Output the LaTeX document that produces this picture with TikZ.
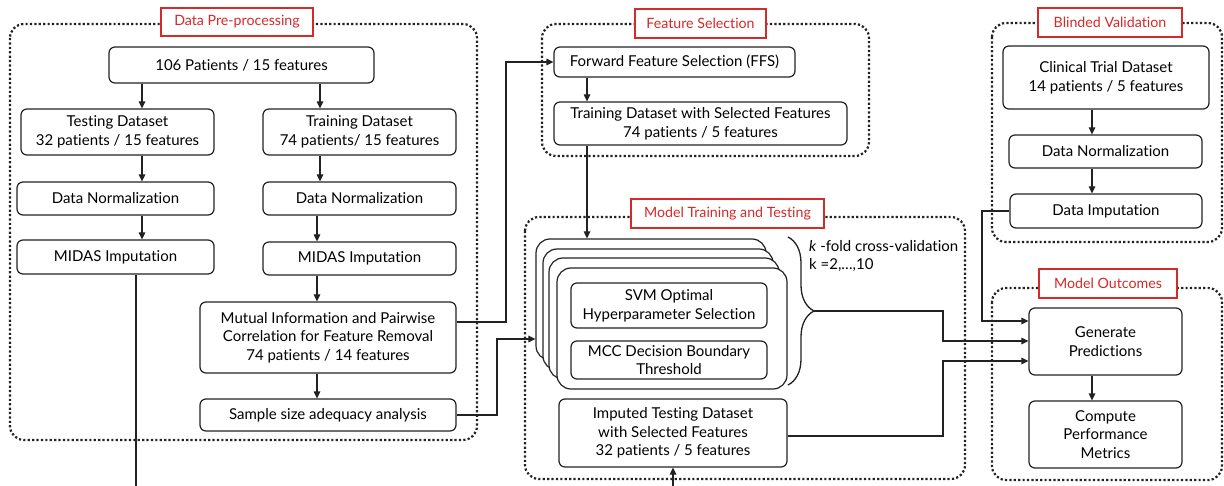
\documentclass[tikz,border=0pt]{standalone}
\usepackage{fontspec}
\setmainfont{Lato}[Ligatures=NoCommon]
\usetikzlibrary{arrows.meta,decorations.pathreplacing,calc}
\definecolor{lnc}{HTML}{222222}
\definecolor{tred}{HTML}{D42A2A}
\begin{document}
\begin{tikzpicture}[x=1pt,y=-1pt,
  font=\fontsize{15}{18.7}\selectfont,
  bx/.style={draw=lnc, line width=1.2pt, rounded corners=6pt, fill=white, align=center, inner sep=0pt},
  sz/.style 2 args={minimum width=#1pt, minimum height=#2pt},
  grp/.style={draw=lnc, line width=2.2pt, dash pattern=on 2.2pt off 2.2pt, rounded corners=14pt},
  ttl/.style={draw=tred, line width=1.4pt, fill=white, text=tred, inner sep=0pt, font=\fontsize{14.2}{17}\selectfont},
  stk/.style={bx, rounded corners=14pt, sz={230}{121}},
  conn/.style={draw=lnc, line width=1.2pt},
  arr/.style={conn, -{Triangle[length=7pt,width=6.5pt]}},
  brc/.style={draw=lnc, line width=1.3pt, decorate, decoration={brace, amplitude=26pt}}
]
\useasboundingbox (0,0) rectangle (1224,486);
\fill[white] (0,0) rectangle (1224,486);

% group frames
\draw[grp] (10,24) rectangle (477,440);
\draw[grp] (542,24) rectangle (869,156);
\draw[grp] (525,217) rectangle (965,479);
\draw[grp] (992,23) rectangle (1222,242);
\draw[grp] (992,288) rectangle (1222,480);

% titles
\node[ttl, sz={152}{28}] (t1) at (237,22) {Data Pre-processing};
\node[ttl, sz={131}{29}] (t2) at (700.5,23.5) {Feature Selection};
\node[ttl, sz={193}{29}] (t3) at (727.5,213.5) {Model Training and Testing};
\node[ttl, sz={144}{29}] (t4) at (1110,22.5) {Blinded Validation};
\node[ttl, sz={138}{29}] (t5) at (1108,283.5) {Model Outcomes};

% Data pre-processing
\node[bx, sz={265}{36}] (n106) at (241.5,65) {106 Patients / 15 features};
\node[bx, sz={193}{46}] (tst) at (117.5,132) {Testing Dataset\\32 patients / 15 features};
\node[bx, sz={193}{46}] (trn) at (359.5,132) {Training Dataset\\74 patients/ 15 features};
\node[bx, sz={197}{33}] (dnl) at (115.5,198.5) {Data Normalization};
\node[bx, sz={193}{33}] (dnr) at (359.5,198.5) {Data Normalization};
\node[bx, sz={197}{34}] (midl) at (115.5,257) {MIDAS Imputation};
\node[bx, sz={193}{33}] (midr) at (359.5,258.5) {MIDAS Imputation};
\node[bx, sz={256}{71}] (mi) at (328,337.5) {Mutual Information and Pairwise\\Correlation for Feature Removal\\74 patients / 14 features};
\node[bx, sz={256}{32}] (ss) at (328,415) {Sample size adequacy analysis};

% Feature selection
\node[bx, sz={241}{30}] (ffs) at (674.5,62) {Forward Feature Selection (FFS)};
\node[bx, sz={293}{43}] (tds) at (700.5,123.5) {Training Dataset with Selected Features\\74 patients / 5 features};

% Model training
\node[stk] (st0) at (651,299.5) {};
\node[stk] (st1) at (658,309.5) {};
\node[stk] (st2) at (664,318.5) {};
\node[stk] (st3) at (672,328.5) {};
\node[bx, sz={196}{45}] (svm) at (669,305.5) {SVM Optimal\\Hyperparameter Selection};
\node[bx, sz={196}{38}] (mcc) at (669,360) {MCC Decision Boundary\\Threshold};
\node[bx, sz={228}{68}] (imp) at (673,433) {Imputed Testing Dataset\\with Selected Features\\32 patients / 5 features};
\draw[brc] (788,237) -- (788,385);
\coordinate (btip) at (814,311);
\node[anchor=north west, align=left, inner sep=0pt] (kf) at (809,240) {\textit{k} -fold cross-validation\\k =2,…,10};

% Blinded validation
\node[bx, sz={206}{63}] (ctd) at (1106,77.5) {Clinical Trial Dataset\\14 patients / 5 features};
\node[bx, sz={193}{33}] (dnb) at (1105.5,151.5) {Data Normalization};
\node[bx, sz={192}{34}] (dib) at (1106,211) {Data Imputation};

% Model outcomes
\node[bx, sz={153}{67}] (gen) at (1105.5,341.5) {Generate\\Predictions};
\node[bx, sz={153}{67}] (cpm) at (1105.5,434.5) {Compute\\Performance\\Metrics};

% helper coordinates
\coordinate (x142) at (142,0);
\coordinate (x320) at (320,0);
\coordinate (x317) at (317,0);
\coordinate (x136) at (136,486);
\coordinate (x587) at (587,0);
\coordinate (x673) at (673,486);
\coordinate (x1092) at (1092,0);
\coordinate (jA) at (506,322);
\coordinate (jB) at (497,339);
\coordinate (jD) at (943,341);
\coordinate (jE) at (943,361);
\coordinate (jF) at (982,321);
\coordinate (y436) at (0,436);

% connectors
\draw[arr] (n106.south -| x142) -- (tst.north -| x142);
\draw[arr] (n106.south -| x320) -- (trn.north -| x320);
\draw[arr] (tst.south -| x142) -- (dnl.north -| x142);
\draw[arr] (trn.south -| x320) -- (dnr.north -| x320);
\draw[arr] (dnl.south -| x142) -- (midl.north -| x142);
\draw[arr] (dnr.south -| x317) -- (midr.north -| x317);
\draw[arr] (midr.south -| x317) -- (mi.north -| x317);
\draw[arr] (mi.south -| x317) -- (ss.north -| x317);
\draw[conn] (midl.south -| x136) -- (x136);
\draw[arr] (mi.east |- jA) -- (jA) |- (ffs.west);
\draw[arr] (ss.east) -| (jB) -- (jB -| st0.west);
\draw[arr] (ffs.south -| x587) -- (tds.north -| x587);
\draw[arr] (tds.south -| x587) -- (st0.north -| x587);
\draw[arr] (x673) -- (imp.south);
\draw[arr] (btip) -| (jD) -- (jD -| gen.west);
\draw[arr] (imp.east |- y436) -| (jE) -- (jE -| gen.west);
\draw[arr] (dib.west) -| (jF) -- (jF -| gen.west);
\draw[arr] (ctd.south -| x1092) -- (dnb.north -| x1092);
\draw[arr] (dnb.south -| x1092) -- (dib.north -| x1092);
\draw[arr] (gen.south -| x1092) -- (cpm.north -| x1092);
\end{tikzpicture}
\end{document}
